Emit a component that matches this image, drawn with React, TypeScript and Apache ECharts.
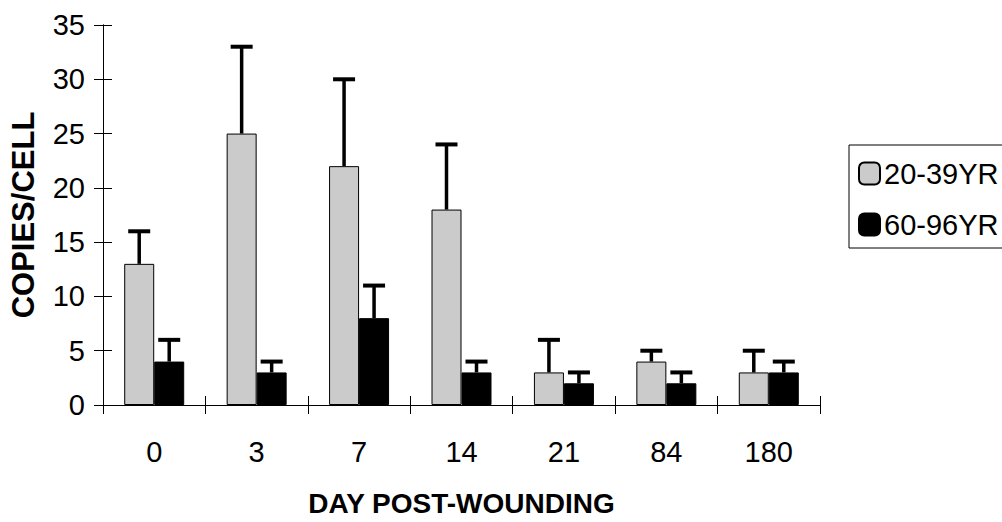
import React, { useEffect, useRef } from "react";
import * as echarts from "echarts";

const categories = ["0", "3", "7", "14", "21", "84", "180"];
const youngMean = [13, 25, 22, 18, 3, 4, 3];
const youngUpper = [16, 33, 30, 24, 6, 5, 5];
const oldMean = [4, 3, 8, 3, 2, 2, 3];
const oldUpper = [6, 4, 11, 4, 3, 3, 4];
const yTicks = { min: 0, max: 35, interval: 5 };

const FONT = "'Liberation Sans', Arial, Helvetica, sans-serif";
const BAR_W = 30;

function errorSeries(name: string, means: number[], uppers: number[], offset: number) {
  return {
    name,
    type: "custom",
    xAxisIndex: 0,
    yAxisIndex: 0,
    z: 10,
    silent: true,
    data: means.map((m, i) => [i, m, uppers[i]]),
    renderItem: (_params: any, api: any) => {
      const i = api.value(0);
      const p0 = api.coord([i, api.value(1)]);
      const p1 = api.coord([i, api.value(2)]);
      const x = p0[0] + offset;
      return {
        type: "group",
        children: [
          {
            type: "line",
            shape: { x1: x, y1: p0[1], x2: x, y2: p1[1] },
            style: { stroke: "#000", lineWidth: 3.5 },
          },
          {
            type: "line",
            shape: { x1: x - 11, y1: p1[1], x2: x + 11, y2: p1[1] },
            style: { stroke: "#000", lineWidth: 4 },
          },
        ],
      };
    },
  };
}

export default function App() {
  const ref = useRef<HTMLDivElement>(null);
  useEffect(() => {
    if (!ref.current) return;
    const chart = echarts.init(ref.current, undefined, { renderer: "svg" });
    const axisLine = { show: true, onZero: false, lineStyle: { color: "#000", width: 1 } };
    const tick = (inside: boolean) => ({
      show: true,
      inside,
      length: 9,
      lineStyle: { color: "#000", width: 1 },
    });
    chart.setOption({
      animation: false,
      backgroundColor: "#fff",
      grid: {
        left: 103,
        right: 182,
        top: 25,
        bottom: 117,
        containLabel: false,
        outerBoundsMode: "none",
      },
      legend: {
        orient: "vertical",
        left: 849,
        top: 145,
        data: ["20-39YR", "60-96YR"],
        itemWidth: 21,
        itemHeight: 22,
        itemGap: 22,
        padding: [14, 14, 9, 9],
        borderColor: "#000",
        borderWidth: 1,
        textStyle: { fontFamily: FONT, fontSize: 29, color: "#000", padding: [0, 0, 0, -1] },
      },
      xAxis: [
        {
          type: "category",
          data: categories,
          position: "bottom",
          axisLine,
          axisTick: tick(false),
          axisLabel: { fontFamily: FONT, fontSize: 29, color: "#000", margin: 32 },
          name: "DAY POST-WOUNDING",
          nameLocation: "middle",
          nameGap: 84,
          nameTextStyle: { fontFamily: FONT, fontSize: 28, fontWeight: "bold", color: "#000" },
        },
        {
          type: "category",
          data: categories,
          position: "bottom",
          axisLine,
          axisTick: tick(true),
          axisLabel: { show: false },
        },
      ],
      yAxis: [
        {
          type: "value",
          position: "left",
          min: yTicks.min,
          max: yTicks.max,
          interval: yTicks.interval,
          axisLine,
          splitLine: { show: false },
          axisTick: tick(false),
          axisLabel: { fontFamily: FONT, fontSize: 29, color: "#000", margin: 18 },
          name: "COPIES/CELL",
          nameLocation: "middle",
          nameRotate: 90,
          nameGap: 64,
          nameTextStyle: { fontFamily: FONT, fontSize: 31, fontWeight: "bold", color: "#000" },
        },
        {
          type: "value",
          position: "left",
          min: yTicks.min,
          max: yTicks.max,
          interval: yTicks.interval,
          axisLine,
          splitLine: { show: false },
          axisTick: tick(true),
          axisLabel: { show: false },
        },
      ],
      series: [
        {
          name: "20-39YR",
          type: "bar",
          data: youngMean,
          barWidth: BAR_W,
          barGap: "0%",
          itemStyle: { color: "#cbcbcb", borderColor: "#000", borderWidth: 1 },
        },
        {
          name: "60-96YR",
          type: "bar",
          data: oldMean,
          barWidth: BAR_W,
          barGap: "0%",
          itemStyle: { color: "#000", borderColor: "#000", borderWidth: 1 },
        },
        errorSeries("err-young", youngMean, youngUpper, -BAR_W / 2),
        errorSeries("err-old", oldMean, oldUpper, BAR_W / 2),
      ],
    });
    return () => chart.dispose();
  }, []);
  return (
    <div
      ref={ref}
      style={{ position: "absolute", left: 0, top: 0, width: 1002, height: 522 }}
    />
  );
}
